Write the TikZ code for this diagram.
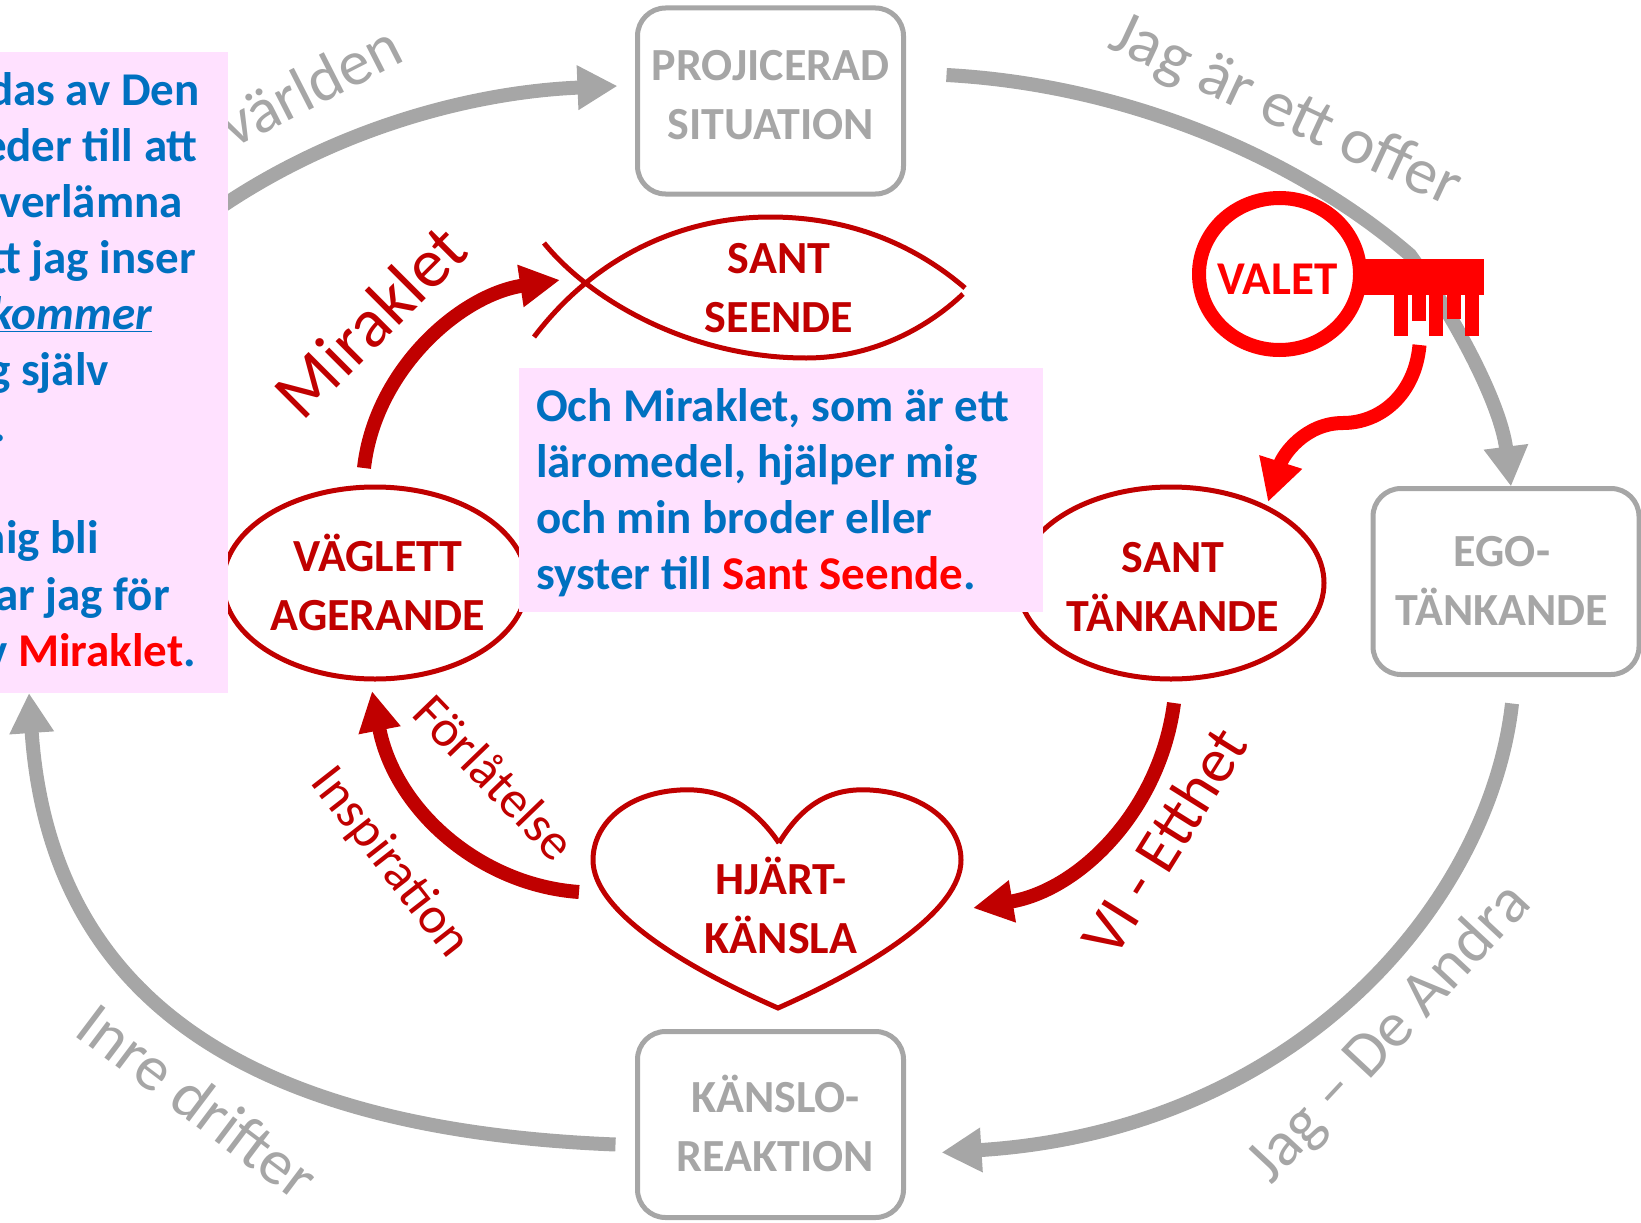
\documentclass[tikz,border=0pt]{standalone}
\usepackage{fontspec}
\setmainfont{Carlito}
\usetikzlibrary{arrows.meta,shapes.geometric}
\definecolor{darkred}{HTML}{C00000}
\definecolor{brightred}{HTML}{FF0000}
\definecolor{midgray}{HTML}{A6A6A6}
\definecolor{textblue}{HTML}{0070C0}
\definecolor{palepink}{HTML}{FFE1FF}
\begin{document}
\begin{tikzpicture}[
  x=1pt, y=-1pt,
  egobox/.style={rectangle, draw=midgray, line width=5pt, rounded corners=28pt, minimum width=266pt, minimum height=186pt, text=midgray, font=\fontsize{46}{59}\selectfont\bfseries, align=center, outer sep=0pt},
  soulnode/.style={ellipse, draw=darkred, line width=5pt, minimum width=304pt, minimum height=192pt, inner sep=-4pt, outer sep=0pt, text=darkred, font=\fontsize{46}{59}\selectfont\bfseries, align=center},
  soultext/.style={text=darkred, font=\fontsize{46}{59}\selectfont\bfseries, align=center, inner sep=0pt, outer sep=0pt},
  shapeline/.style={draw=darkred, line width=5pt},
  pinkbox/.style={rectangle, fill=palepink, inner sep=0pt, outer sep=0pt},
  pinkline/.style={anchor=base east, inner sep=0pt, text=textblue, font=\fontsize{47}{56}\selectfont\bfseries},
  grayarrow/.style={draw=midgray, line width=14pt, -{Triangle[length=40pt,width=42pt]}},
  redarrow/.style={draw=darkred, line width=14pt, -{Triangle[length=40pt,width=40pt]}},
  grayword/.style={text=midgray, font=\fontsize{64}{64}\selectfont, inner sep=0pt},
  redword/.style={text=darkred, font=\fontsize{52}{52}\selectfont, inner sep=0pt}
]
\useasboundingbox (0,0) rectangle (1641,1223);

% Ego boxes
\node[egobox] (projicerad) at (770.5,101) {\begin{tabular}{@{}c@{}}PROJICERAD\\SITUATION\rule[-24pt]{0pt}{0pt}\end{tabular}};
\node[egobox] (egotank) at (1506,581.5) {\begin{tabular}{@{}c@{}}\rule{0pt}{47pt}EGO-\\TÄNKANDE\end{tabular}\hspace*{8pt}};
\node[egobox] (kanslo) at (770.5,1124.5) {\hspace*{10pt}\begin{tabular}{@{}c@{}}\rule{0pt}{52pt}KÄNSLO-\\REAKTION\end{tabular}};

% Pink box on the left, drawn later
\coordinate (leftcentre) at (114,372.5);

% Gray circle
\draw[grayarrow] ([shift={(96,-158)}]leftcentre) .. controls (330,130) and (470,92) .. ([shift={(-20,-15)}]projicerad.west);
\draw[grayarrow] ([shift={(43,-26)}]projicerad.east) .. controls (1130,85) and (1300,160) .. (1410,255) .. controls (1450,310) and (1500,400) .. ([shift={(5,-2)}]egotank.north);
\draw[grayarrow] ([shift={(6,29)}]egotank.south) .. controls (1490,900) and (1300,1130) .. ([shift={(38,28)}]kanslo.east);
\draw[grayarrow] ([shift={(-22,20)}]kanslo.west) .. controls (250,1130) and (50,1000) .. ([shift={(-85,320.5)}]leftcentre);

% Gray labels
\node[grayword, rotate=27] (varlden) at (310,85) {världen};
\node[grayword, rotate=-25, font=\fontsize{65}{65}\selectfont] (offer) at (1285,112) {Jag är ett offer};
\node[grayword, rotate=47] (andra) at (1390,1034) {Jag -- De Andra};
\node[grayword, rotate=-37] (drifter) at (198,1101) {Inre drifter};

% Soul shapes
\node[soulnode] (vaglett) at (375,583) {\hspace*{6pt}\begin{tabular}{@{}c@{}}\rule{0pt}{53pt}VÄGLETT\\AGERANDE\end{tabular}};
\node[soulnode, minimum width=306pt] (tankande) at (1171,583) {\hspace*{4pt}\begin{tabular}{@{}c@{}}\rule{0pt}{55pt}SANT\\TÄNKANDE\end{tabular}};
\node[soultext, minimum width=370pt] (seende) at (779,288) {SANT\\SEENDE};
\node[soultext, minimum width=360pt] (hjarta) at (781,905) {HJÄRT-\\KÄNSLA};

% Fish
\draw[shapeline] (534,337) .. controls (600,250) and (690,217) .. (770,217) .. controls (850,217) and (915,245) .. (965,288);
\draw[shapeline] (544,243) .. controls (590,300) and (690,358) .. (806,358) .. controls (870,358) and (925,330) .. (963,294);

% Heart
\draw[shapeline] (779,843) .. controls (750,800) and (715,788) .. (680,790) .. controls (625,793) and (593,825) .. (593,860) .. controls (593,910) and (680,965) .. (778,1008) .. controls (875,965) and (961,910) .. (961,860) .. controls (961,825) and (925,793) .. (870,790) .. controls (835,788) and (805,800) .. (779,843);

% Red arrows
\draw[redarrow] ([shift={(-11,-19)}]vaglett.north) .. controls (375,370) and (460,295) .. ([shift={(-34,-8)}]seende.west);
\draw[redarrow] ([shift={(-22,-13)}]hjarta.west) .. controls (480,885) and (395,810) .. ([shift={(-3,12)}]vaglett.south);
\draw[redarrow] ([shift={(3,24)}]tankande.south) .. controls (1160,810) and (1080,890) .. ([shift={(12,3)}]hjarta.east);

% Red labels
\node[redword, rotate=45, font=\fontsize{70}{70}\selectfont] (miraklet) at (370,321) {Miraklet};
\node[redword, rotate=-46] (forlatelse) at (495,777) {Förlåtelse};
\node[redword, rotate=-52] (inspiration) at (390,863) {Inspiration};
\node[redword, rotate=58, font=\fontsize{63}{63}\selectfont] (etthet) at (1164,841) {VI - Etthet};

% Key
\fill[brightred] (1363,259) rectangle (1484,295);
\fill[brightred] (1394,295) rectangle (1408,336);
\fill[brightred] (1412,295) rectangle (1426,321);
\fill[brightred] (1429,295) rectangle (1443,336);
\fill[brightred] (1447,295) rectangle (1461,319);
\fill[brightred] (1465,295) rectangle (1479,336);
\node[ellipse, draw=brightred, fill=white, line width=14pt, minimum width=161pt, minimum height=152pt, inner sep=-12pt, outer sep=0pt, text=brightred, font=\fontsize{47}{47}\selectfont\bfseries] (valet) at (1279.5,274) {\rule{0pt}{40pt}VALET\hspace*{4pt}};
\draw[draw=brightred, line width=14pt, -{Triangle[length=42pt,width=42pt]}] ([shift={(140,71)}]valet.center) .. controls (1415,395) and (1380,423) .. (1343,423) .. controls (1305,423) and (1283,455) .. ([shift={(97,15)}]tankande.north);

% Pink text boxes
\node[pinkbox, minimum width=228pt, minimum height=641pt] (leftbox) at (leftcentre) {};
\node[pinkline] (left1) at (200,105) {das av Den};
\node[pinkline] (left2) at (198,161) {eder till att};
\node[pinkline] (left3) at (183,217) {verlämna};
\node[pinkline] (left4) at (196,273) {tt jag inser};
\node[pinkline] (left5) at (152,329) {\underline{\itshape kommer}};
\node[pinkline] (left6) at (109,385) {g själv};
\node[pinkline] (left7) at (6,441) {.};
\node[pinkline] (left8) at (99,553) {nig bli};
\node[pinkline] (left9) at (170,610) {ar jag för};
\node[pinkline] (left10) at (196,666) {v \textcolor{brightred}{Miraklet}.};

\node[pinkbox, anchor=north west, minimum width=524pt, minimum height=244pt] (centerbox) at (519,368) {};
\node[anchor=north west, inner sep=0pt, align=left, text=textblue, font=\fontsize{47}{56}\selectfont\bfseries] (centertext) at (536,388) {Och Miraklet, som är ett\\läromedel, hjälper mig\\och min broder eller\\syster till \textcolor{brightred}{Sant Seende}.};
\end{tikzpicture}
\end{document}
